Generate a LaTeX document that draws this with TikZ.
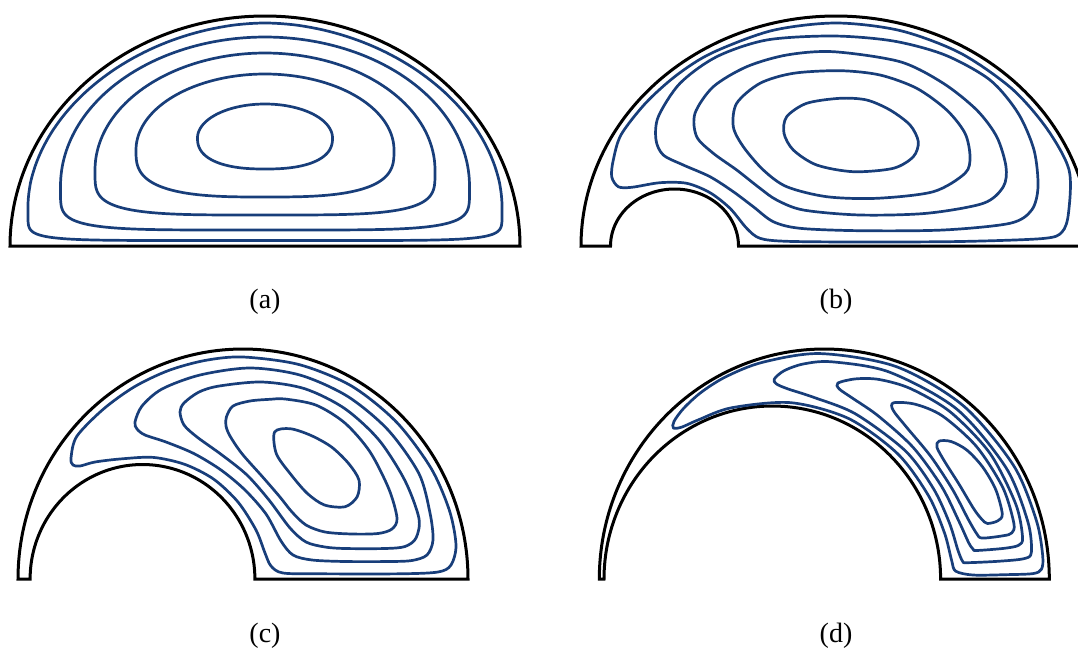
\documentclass[tikz,border=0pt]{standalone}
\usepackage{fontspec}
\setmainfont{Liberation Serif}
\definecolor{streamblue}{RGB}{24,62,122}
% cx, yw, a, hu, hd, n (lower superellipse), p (upper exponent)
\newcommand\acurve[7]{%
  \draw[stream] plot[domain=0:90,samples=60] ({#1+#3*pow(max(cos(\x),0.0001),#7)},{#2-#4*pow(max(sin(\x),0.0001),#7)})
   -- plot[domain=90:0,samples=60] ({#1-#3*pow(max(cos(\x),0.0001),#7)},{#2-#4*pow(max(sin(\x),0.0001),#7)})
   -- plot[domain=0:90,samples=70] ({#1-#3*pow(max(cos(\x),0.0001),2/#6)},{#2+#5*pow(max(sin(\x),0.0001),2/#6)})
   -- plot[domain=90:0,samples=70] ({#1+#3*pow(max(cos(\x),0.0001),2/#6)},{#2+#5*pow(max(sin(\x),0.0001),2/#6)})
   -- cycle;}
% curve in gap coordinates (angle / fraction between inner and outer boundary)
\newcommand\gapcurve[1]{%
  \gdef\gaplist{}%
  \foreach \ga/\gs in {#1}{%
    \pgfmathsetmacro\gx{(1-\gs)*(\gix+\girx*cos(\ga)) + \gs*(\gox+\gorx*cos(\ga))}%
    \pgfmathsetmacro\gy{\gby-((1-\gs)*\giry+\gs*\gory)*sin(\ga)}%
    \xdef\gaplist{\gaplist (\gx,\gy)}%
  }%
  \edef\gtmp{\noexpand\draw[stream] plot[smooth cycle] coordinates {\gaplist};}%
  \gtmp}
\begin{document}
\begin{tikzpicture}[x=1pt,y=-1pt,
  bnd/.style={line width=3pt,black},
  stream/.style={line width=2.7pt,streamblue,line join=round},
  lbl/.style={font=\fontsize{28}{32}\selectfont,inner sep=0pt}]
\useasboundingbox (0,0) rectangle (1078,651);
\clip (0,0) rectangle (1078,651);

% ---------- (a) ----------
\draw[bnd] plot[domain=0:180,samples=150] ({265+255*cos(\x)},{246-230*sin(\x)}) -- cycle;
\acurve{265}{206}{237}{183}{34.5}{7}{1.06}
\acurve{265}{186}{204.5}{149}{44}{5}{1}
\acurve{265}{170}{170}{117}{45}{4}{1}
\acurve{265}{150}{129}{76}{47}{3}{1}
\acurve{265}{138}{67.5}{34}{31}{2.4}{1}
\node[lbl] (la) at (265,302) {(a)};

% ---------- (b) ----------
\draw[bnd] plot[domain=0:180,samples=150] ({836+255*cos(\x)},{246-230*sin(\x)})
  -- plot[domain=180:0,samples=60] ({674.5+64*cos(\x)},{246-57*sin(\x)}) -- cycle;
\draw[stream] plot[smooth cycle] coordinates {(621.2,134.5) (646,102.7) (676.6,75.2) (712,52.9) (771.8,30.6) (836,23) (900.2,30.6) (960,52.9) (1011.4,88.3) (1046.3,127.8) (1069,169.7) (1068.5,213) (1062,232) (1043,238.5) (960,241.5) (860,242) (786.7,241.3) (760,238.3) (746.7,228.3) (730,208.3) (710,192.7) (686.7,183.3) (660,182.7) (631.7,187.3) (618.3,186.7) (611.7,176.7) (613.3,160)};
\draw[stream] plot[smooth cycle] coordinates {(833.3,36) (766.7,40) (716.7,56.7) (680,83.3) (658.3,116.7) (656,140) (663.3,155) (683.3,165) (710,176.7) (733.3,191.7) (753.3,206.7) (773.3,221.7) (800,228.3) (860,230.7) (943.3,230) (1010,223.3) (1031.7,210) (1038,186.7) (1034,150) (1018,113) (990,80) (945,55) (893.3,41)};
\draw[stream] plot[smooth cycle] coordinates {(833.3,51.7) (786.7,55) (746.7,66.7) (713.3,86.7) (695,113.3) (696.7,136.7) (713.3,153.3) (736.7,170) (760,188.3) (776.7,200) (803.3,210) (860,215) (926.7,213.3) (983.3,203.3) (1003.3,186.7) (1006,166.7) (996.7,136.7) (976.7,110) (943.3,83.3) (900,61.7)};
\draw[stream] plot[smooth cycle] coordinates {(840,70.7) (793.3,73.3) (760,83.3) (736.7,103.3) (733.3,126.7) (743.3,146.7) (763.3,170) (786.7,186.7) (826.7,196.7) (876.7,198.3) (933.3,191.7) (965,173.3) (970,156.7) (965,133.3) (946.7,110) (916.7,88.3) (880,75)};
\draw[stream] plot[smooth cycle] coordinates {(840,98.3) (806.7,103.3) (786.7,116.7) (784,133.3) (793.3,150) (816.7,165) (853.3,171.7) (893.3,168.3) (913.3,156.7) (918.3,141.7) (910,125) (890,110) (866.7,100)};
\node[lbl] (lb) at (836,302) {(b)};

% ---------- (c) ----------
\draw[bnd] plot[domain=0:180,samples=150] ({243+225*cos(\x)},{579-230*sin(\x)})
  -- plot[domain=180:0,samples=100] ({142.5+112.4*cos(\x)},{579-114.5*sin(\x)}) -- cycle;
\draw[stream] plot[smooth cycle] coordinates {(71,458) (76.8,436.3) (103.5,409) (134.5,386.7) (168.8,370.4) (205.3,360.4) (243,357) (299.2,364.6) (351.5,386) (396.4,422) (430.9,468) (449.4,510.4) (456,545) (451,565) (438,572) (400,573.8) (320,573.8) (283,573) (271,566) (265,553) (256,530) (238,502) (213.6,479.1) (184.9,464.4) (153.3,457.4) (121,458.9) (95,462) (80,466) (73,465)};
\draw[stream] plot[smooth cycle] coordinates {(135,422) (142,406) (162,389) (200,375) (250,368) (300.5,375.2) (347.5,396.3) (387.9,429.8) (418.9,473.5) (430,513) (433,540) (427,555) (412,560.5) (390,561.5) (345,561.5) (312,560) (293,555) (281,541) (266,514) (245,490) (221,470) (194,453.6) (166,442) (145,435) (137,429)};
\draw[stream] plot[smooth cycle] coordinates {(180,412) (184,403) (199,392) (219.3,386) (262,382) (304.7,388.7) (344.5,408.4) (378.7,439.7) (404.9,480.5) (418.9,518.1) (416,538) (405,546.5) (385,548.5) (345,548.5) (325,547) (306,542) (290,528) (269,500) (247,475) (222,455) (197,437) (184,425)};
\draw[stream] plot[smooth cycle] coordinates {(226.4,417) (233,406) (250,401) (270,399.3) (285,399) (316,405.1) (345,423.1) (369.9,451.7) (388.9,489) (397,518) (392,529) (378,533.5) (352,534) (325,532) (306,525) (292,512) (279.7,496.7) (262.5,476.8) (241.9,453.6) (230,436) (226,426)};
\draw[stream] plot[smooth cycle] coordinates {(274.6,432) (276.3,453.6) (290.1,473.5) (307.3,493.4) (324.5,505) (345.2,506.7) (357.2,496.7) (359,480.1) (348.6,463.5) (331.4,446.9) (310.7,435.3) (290.1,428.7)};
\node[lbl] (lc) at (265,636) {(c)};

% ---------- (d) ----------
\draw[bnd] plot[domain=0:180,samples=150] ({824.3+225*cos(\x)},{579-230*sin(\x)})
  -- plot[domain=180:0,samples=120] ({772.3+168.3*cos(\x)},{579-173*sin(\x)}) -- cycle;
\def\gix{772.3}\def\girx{168.3}\def\giry{173}
\def\gox{824.3}\def\gorx{225}\def\gory{230}\def\gby{579}
\gapcurve{1.2/.3, 1.2/.6, 1.4/.85, 2.5/.93, 6/.95, 15/.95, 30/.945, 50/.935, 70/.93, 90/.92, 105/.9, 115/.88, 122/.83, 127/.72, 129.5/.55, 128.5/.35, 124/.18, 117/.1, 105/.075, 85/.07, 65/.07, 45/.07, 28/.075, 15/.09, 6/.11, 2.5/.14}
\gapcurve{5/.25, 5/.55, 5.4/.78, 7/.85, 15/.87, 30/.87, 50/.86, 70/.83, 85/.79, 92/.74, 96/.64, 97/.5, 95/.4, 90/.3, 80/.2, 65/.16, 45/.15, 30/.15, 18/.16, 9/.18, 5.5/.21}
\gapcurve{8.5/.35, 8.5/.6, 9/.74, 11/.79, 20/.81, 35/.81, 50/.79, 62/.75, 70/.69, 75/.6, 78/.48, 76/.4, 70/.33, 60/.27, 45/.235, 30/.23, 18/.25, 11/.29, 9/.32}
\gapcurve{12/.42, 12/.62, 12.5/.7, 15/.74, 25/.755, 38/.74, 50/.7, 57/.62, 61/.5, 59/.42, 52/.35, 40/.31, 28/.31, 18/.34, 13.5/.38}
\gapcurve{16/.5, 16.3/.6, 18/.66, 25/.685, 32/.675, 38/.64, 42/.57, 43.5/.48, 42/.42, 37/.39, 29/.39, 21/.42, 17.5/.46}
\node[lbl] (ld) at (836,636) {(d)};
\end{tikzpicture}
\end{document}
